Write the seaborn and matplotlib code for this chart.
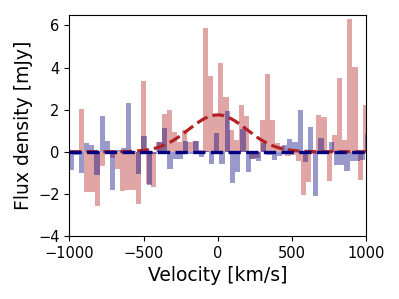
import numpy as np
import pandas as pd
import matplotlib
matplotlib.use("Agg")
import matplotlib.pyplot as plt
import seaborn as sns

# channel grids (km/s)
red_start, red_width = -1004.8, 34.8
blue_start, blue_width = -1006.8, 35.14

# flux density per channel (mJy)
red_flux = [0.0, 0.0, 2.05, -1.9, -1.9, -2.6, -0.67, 0.0, -0.3, -0.8,
            -1.85, -1.83, -1.83, -2.46, 3.37, -1.55, -1.67, 0.45, 1.78, 2.0,
            0.95, 0.48, 1.05, 0.45, 0.5, 0.1, 5.9, 3.6, 1.8, 4.2,
            2.6, 1.03, 0.55, 2.2, 1.7, -0.35, -0.3, 1.5, 3.68, 1.5,
            0.4, 0.25, -0.2, -0.15, -0.45, -2.06, -1.42, -0.1, 1.75, 1.67,
            -1.37, 0.8, 3.5, 0.56, 6.3, 4.05, -1.33, 2.2]
blue_flux = [-0.85, -0.15, -1.03, 0.4, 0.33, -1.1, 1.72, 0.5, -1.8, 0.08,
             0.2, 2.3, 0.05, -1.08, 0.76, -1.56, -0.12, 0.45, 1.14, -0.84,
             -0.33, -0.33, 0.5, -0.12, 0.5, -0.24, 0.05, -0.6, 0.87, -0.56,
             1.93, -1.5, -0.95, 1.1, -0.95, -0.35, -0.42, 0.4, -0.15, -0.38,
             -0.2, 0.3, 0.62, 0.48, 1.97, -0.5, 1.16, -2.08, 0.63, 0.05,
             0.48, -0.63, -0.63, -0.92, -0.44, -0.44, -0.4, 0.85]

# gaussian fit to the red spectrum
g_amp, g_cen, g_sigma = 1.75, 0.0, 195.0

red_edges = red_start + red_width * np.arange(len(red_flux) + 1)
blue_edges = blue_start + blue_width * np.arange(len(blue_flux) + 1)
red_df = pd.DataFrame({"vel": red_edges[:-1] + red_width / 2, "flux": red_flux})
blue_df = pd.DataFrame({"vel": blue_edges[:-1] + blue_width / 2, "flux": blue_flux})

fig, ax = plt.subplots(figsize=(3.99, 2.99), dpi=100)
fig.subplots_adjust(left=0.174, right=0.917, top=0.95, bottom=0.211)

sns.histplot(data=red_df, x="vel", weights="flux", bins=red_edges.tolist(),
             color="firebrick", alpha=0.4, linewidth=0, ax=ax)
sns.histplot(data=blue_df, x="vel", weights="flux", bins=blue_edges.tolist(),
             color="navy", alpha=0.4, linewidth=0, ax=ax)

v = np.linspace(-1000, 1000, 400)
gauss = g_amp * np.exp(-(v - g_cen) ** 2 / (2 * g_sigma ** 2))
sns.lineplot(x=v, y=gauss, color="firebrick", linewidth=2.3, linestyle="--", ax=ax)
ax.axhline(0, color="navy", linestyle="--", linewidth=2.4)

ax.set_xlim(-1000, 1000)
ax.set_ylim(-4, 6.5)
ax.set_xticks([-1000, -500, 0, 500, 1000])
ax.set_yticks([-4, -2, 0, 2, 4, 6])
ax.tick_params(labelsize=10.5)
ax.set_xlabel("Velocity [km/s]", fontsize=13.5)
ax.set_ylabel("Flux density [mJy]", fontsize=13.5)

fig.savefig("out.png", dpi=100)
